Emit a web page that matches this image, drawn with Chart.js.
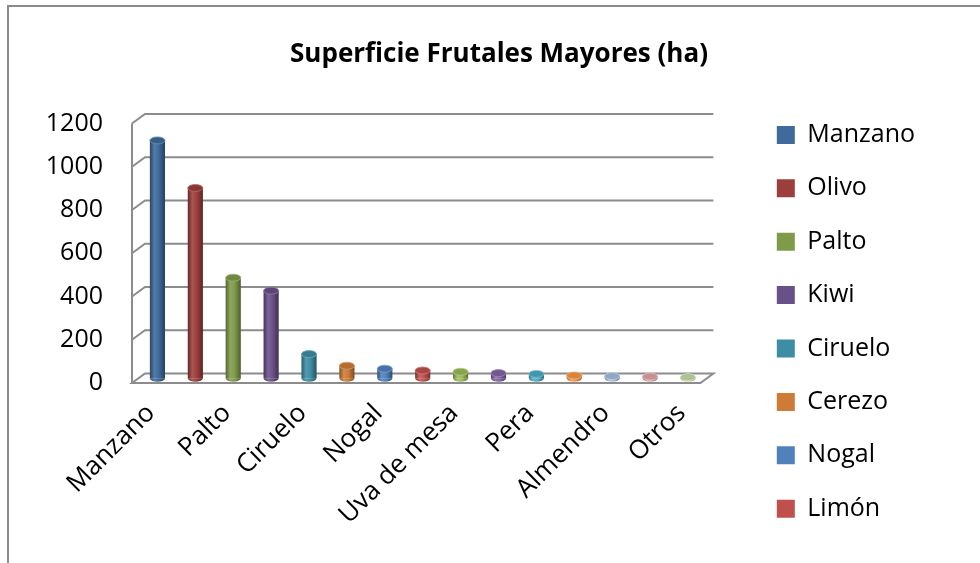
<!DOCTYPE html>
<html>
<head>
<meta charset="utf-8">
<title>Superficie Frutales Mayores (ha)</title>
<script src="https://cdn.jsdelivr.net/npm/chart.js@4.4.1/dist/chart.umd.min.js"></script>
<style>
  html, body { margin: 0; padding: 0; background: #fff; }
  #wrap { position: relative; width: 980px; height: 563px; overflow: hidden; }
  #frame { position: absolute; left: 7px; top: 5px; right: -10px; bottom: -10px;
           border-top: 2px solid #8a8a8a; border-left: 2px solid #8a8a8a; pointer-events: none; }
  canvas { position: absolute; left: 0; top: 0; }
</style>
</head>
<body>
<div id="wrap">
  <canvas id="chart" width="980" height="563"></canvas>
  <div id="frame"></div>
</div>
<script>
// -----------------------------
// DATA
// -----------------------------
const categories = [
    "Manzano", "Olivo", "Palto", "Kiwi", "Ciruelo", "Cerezo", "Nogal", "Limón",
    "Uva de mesa", "Durazno", "Pera", "Naranjo", "Almendro", "Damasco", "Otros"
];
const superficie = [1100, 880, 465, 405, 112, 58, 44, 36, 30, 24, 20, 13, 10, 8, 5];
const barColors = [
    "#3e6a9c", "#9c3e3b", "#7f9b4a", "#6a5089", "#3d8da4", "#cd7b37", "#4f81bd", "#c0504d",
    "#9bbb59", "#8064a2", "#4bacc6", "#f79646", "#a6bede", "#e0a6a5", "#c7daa6"
];
const yTickValues = [0, 200, 400, 600, 800, 1000, 1200];
const legendCount = 8;   // only the first entries fit in the picture

// 3d look
const DX = 13;
const DY = -9.5;
const BAR_PCT = 0.4;
const RY = 3.5;
const LEGEND_SHIFT = 48;
const TITLE_SHIFT = 51.5;

// -----------------------------
// COLOUR HELPERS
// -----------------------------
function shade(hex, f) {
    const n = parseInt(hex.slice(1), 16);
    let r = n >> 16, g = (n >> 8) & 255, b = n & 255;
    const t = f < 0 ? 0 : 255;
    const p = Math.abs(f);
    r = Math.round(r + (t - r) * p);
    g = Math.round(g + (t - g) * p);
    b = Math.round(b + (t - b) * p);
    return `rgb(${r},${g},${b})`;
}

function cylGradient(ctx, x, w, color) {
    const g = ctx.createLinearGradient(x - w / 2, 0, x + w / 2, 0);
    g.addColorStop(0, shade(color, -0.35));
    g.addColorStop(0.3, shade(color, 0.12));
    g.addColorStop(0.6, color);
    g.addColorStop(1, shade(color, -0.4));
    return g;
}

// -----------------------------
// WALLS, FLOOR AND CYLINDER CAPS
// -----------------------------
const walls3d = {
    id: "walls3d",
    afterLayout(chart) {
        // legend sits a bit away from the plot and the title is centred
        // on the whole picture, like the original
        chart.legend.left += LEGEND_SHIFT;
        chart.legend.right += LEGEND_SHIFT;
        chart.titleBlock.left += TITLE_SHIFT;
        chart.titleBlock.right += TITLE_SHIFT;
    },
    beforeDatasetsDraw(chart) {
        const { ctx, chartArea: { left, right }, scales: { y } } = chart;
        const y0 = y.getPixelForValue(0);
        const yTop = y.getPixelForValue(yTickValues[yTickValues.length - 1]);

        ctx.save();
        ctx.strokeStyle = "#8c8c8c";
        ctx.lineWidth = 2;

        // floor
        ctx.beginPath();
        ctx.moveTo(left, y0);
        ctx.lineTo(right, y0);
        ctx.lineTo(right + DX, y0 + DY);
        ctx.lineTo(left + DX, y0 + DY);
        ctx.closePath();
        ctx.stroke();

        // side wall edge
        ctx.beginPath();
        ctx.moveTo(left, y0);
        ctx.lineTo(left, yTop);
        ctx.stroke();

        // gridlines on side and back wall
        yTickValues.forEach(v => {
            if (v === 0) return;
            const yp = y.getPixelForValue(v);
            ctx.beginPath();
            ctx.moveTo(left, yp);
            ctx.lineTo(left + DX, yp + DY);
            ctx.lineTo(right + DX, yp + DY);
            ctx.stroke();
        });
        ctx.restore();

        // bars stand in the middle of the depth
        ctx.save();
        ctx.translate(DX / 2, DY / 2);
    },
    afterDatasetsDraw(chart) {
        const { ctx } = chart;
        const meta = chart.getDatasetMeta(0);

        meta.data.forEach((bar, i) => {
            const { x, y, base, width } = bar.getProps(["x", "y", "base", "width"], true);
            const rx = width / 2;
            const color = barColors[i];

            // bottom round
            ctx.beginPath();
            ctx.ellipse(x, base, rx, RY, 0, 0, Math.PI);
            ctx.fillStyle = cylGradient(ctx, x, width, color);
            ctx.fill();

            // top cap
            ctx.beginPath();
            ctx.ellipse(x, y, rx, RY, 0, 0, Math.PI * 2);
            ctx.fillStyle = shade(color, -0.12);
            ctx.fill();
            ctx.lineWidth = 0.8;
            ctx.strokeStyle = shade(color, 0.25);
            ctx.stroke();
        });

        ctx.restore();
    }
};

// -----------------------------
// CHART
// -----------------------------
Chart.defaults.font.family = "'Open Sans', sans-serif";
Chart.defaults.color = "#000";

const ctx = document.getElementById("chart").getContext("2d");

new Chart(ctx, {
    type: "bar",
    data: {
        labels: categories,
        datasets: [{
            label: "Superficie (ha)",
            data: superficie,
            backgroundColor: (c) => {
                const ch = c.chart;
                if (c.type !== "data" || !ch.chartArea) return barColors[c.dataIndex] || barColors[0];
                const xs = ch.scales.x;
                const px = xs.getPixelForValue(c.dataIndex);
                const w = xs.width / categories.length * BAR_PCT;
                return cylGradient(ch.ctx, px, w, barColors[c.dataIndex]);
            },
            borderWidth: 0,
            barPercentage: BAR_PCT,
            categoryPercentage: 1,
            clip: false
        }]
    },
    options: {
        responsive: false,
        animation: false,
        layout: { padding: { left: 18, right: 103, top: 0, bottom: 0 } },
        scales: {
            x: {
                grid: { display: false },
                border: { display: false },
                ticks: {
                    autoSkip: false,
                    minRotation: 45,
                    maxRotation: 45,
                    padding: 7,
                    font: { size: 26 },
                    color: "#000",
                    callback: (v, i) => (i % 2 === 0 ? categories[i] : "")
                },
                afterFit(s) { s.height = 180; }
            },
            y: {
                min: 0,
                max: 1200,
                grid: { display: false },
                border: { display: false },
                ticks: {
                    padding: 21,
                    font: { size: 25 },
                    color: "#000",
                    callback: v => String(v)
                },
                afterBuildTicks(s) { s.ticks = yTickValues.map(v => ({ value: v })); },
                afterFit(s) { s.width = 114; }
            }
        },
        plugins: {
            title: {
                display: true,
                text: "Superficie Frutales Mayores (ha)",
                font: { size: 26, weight: "bold" },
                color: "#000",
                padding: { top: 39.4, bottom: 52.9 }
            },
            legend: {
                position: "right",
                align: "start",
                title: { display: true, text: "", font: { size: 10 }, padding: { top: 82, bottom: 0 } },
                labels: {
                    font: { size: 25 },
                    color: "#000",
                    boxWidth: 18,
                    boxHeight: 18,
                    padding: 28.4,
                    generateLabels: () => categories.slice(0, legendCount).map((t, i) => ({
                        text: t,
                        fillStyle: barColors[i],
                        strokeStyle: barColors[i],
                        lineWidth: 0,
                        hidden: false,
                        index: i
                    }))
                }
            },
            tooltip: { enabled: false }
        }
    },
    plugins: [walls3d]
});
</script>
</body>
</html>
